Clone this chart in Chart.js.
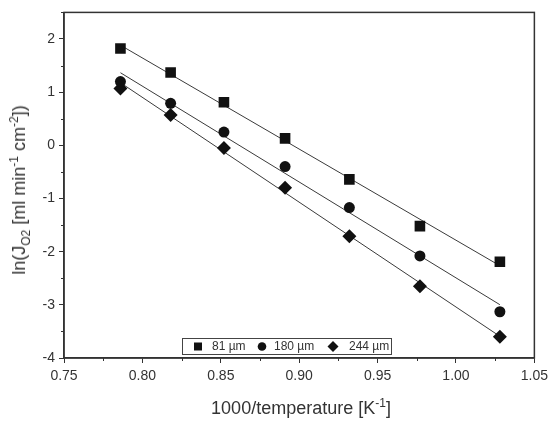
<!DOCTYPE html>
<html>
<head>
<meta charset="utf-8">
<script src="https://cdn.jsdelivr.net/npm/chart.js@4"></script>
<style>
  html,body{margin:0;padding:0;background:#fff;}
  #wrap{position:relative;width:553px;height:421px;font-family:"Liberation Sans",Arial,sans-serif;color:#333;}
  #c{position:absolute;left:0;top:0;}
  .t{position:absolute;white-space:nowrap;font-size:18px;line-height:1;}
  #xt{left:301px;top:399px;transform:translateX(-50%);}
  #yt{left:19px;top:190px;transform:translate(-50%,-50%) rotate(-90deg);}
  sub,sup{font-size:12px;line-height:0;}
</style>
</head>
<body>
<div id="wrap">
  <canvas id="c" width="553" height="421"></canvas>
  <div class="t" id="yt">ln(J<sub>O2</sub> [ml min<sup>-1</sup> cm<sup>-2</sup>])</div>
  <div class="t" id="xt">1000/temperature [K<sup>-1</sup>]</div>
</div>
<script>
// ---- data ----
const invTemp = [0.786, 0.818, 0.852, 0.891, 0.932, 0.977, 1.028];
const series81 = [1.82, 1.37, 0.81, 0.13, -0.64, -1.52, -2.19];
const series180 = [1.20, 0.79, 0.25, -0.40, -1.17, -2.08, -3.13];
const series244 = [1.07, 0.57, -0.05, -0.80, -1.71, -2.65, -3.60];
const seriesLabels = ['81 µm', '180 µm', '244 µm'];
const seriesStyles = ['rect', 'circle', 'rectRot'];
const xTickLabels = ['0.75','0.80','0.85','0.90','0.95','1.00','1.05'];
const yTickLabels = ['-4','-3','-2','-1','0','1','2'];

function pts(ys){ return invTemp.map((x,i)=>({x:x,y:ys[i]})); }
function fit(ys){
  const n = invTemp.length;
  const mx = invTemp.reduce((a,b)=>a+b,0)/n, my = ys.reduce((a,b)=>a+b,0)/n;
  let sxy=0,sxx=0;
  for(let i=0;i<n;i++){ sxy+=(invTemp[i]-mx)*(ys[i]-my); sxx+=(invTemp[i]-mx)**2; }
  const b = sxy/sxx, a = my-b*mx;
  const x0 = invTemp[0], x1 = invTemp[n-1];
  return [{x:x0,y:a+b*x0},{x:x1,y:a+b*x1}];
}
const allSeries = [series81, series180, series244];
const ink = '#111';
const radii = {rect:7.5, circle:5.5, rectRot:7};
const datasets = [];
allSeries.forEach((s)=>{
  datasets.push({type:'line', data:fit(s), borderColor:'#3a3a3a', borderWidth:1, pointRadius:0, fill:false, showLine:true, order:2});
});
allSeries.forEach((s,i)=>{
  datasets.push({type:'scatter', label:seriesLabels[i], data:pts(s), pointStyle:seriesStyles[i],
    pointRadius: radii[seriesStyles[i]],
    backgroundColor:ink, borderColor:ink, borderWidth:0, order:1});
});

const deco = {
  id:'deco',
  afterDraw(chart){
    const ctx = chart.ctx, a = chart.chartArea, xs = chart.scales.x, ys = chart.scales.y;
    ctx.save();
    ctx.strokeStyle = '#333';
    ctx.lineWidth = 1.5;
    ctx.strokeRect(a.left, a.top, a.right-a.left, a.bottom-a.top);
    // minor ticks
    ctx.lineWidth = 1;
    for(let i=0;i<xTickLabels.length-1;i++){
      const v = (parseFloat(xTickLabels[i])+parseFloat(xTickLabels[i+1]))/2;
      const px = Math.round(xs.getPixelForValue(v))+0.5;
      ctx.beginPath(); ctx.moveTo(px,a.bottom); ctx.lineTo(px,a.bottom+3); ctx.stroke();
    }
    for(let i=0;i<yTickLabels.length;i++){
      const v = parseFloat(yTickLabels[i])+0.5;
      if (v>2.5) continue;
      const py = Math.round(ys.getPixelForValue(v))+0.5;
      ctx.beginPath(); ctx.moveTo(a.left,py); ctx.lineTo(a.left-3,py); ctx.stroke();
    }
    // legend box
    const L = 182, T = 338, W = 209, H = 16;
    ctx.fillStyle = '#fff';
    ctx.fillRect(L,T,W,H);
    ctx.strokeStyle = '#444'; ctx.lineWidth = 1;
    ctx.strokeRect(L+0.5,T+0.5,W,H);
    const cy = T+H/2+0.5;
    const items = [[198,212],[262,274],[333,349]];
    ctx.font = '12px "Liberation Sans", Arial, sans-serif';
    ctx.textBaseline = 'middle';
    items.forEach((it,i)=>{
      ctx.fillStyle = ink;
      const st = seriesStyles[i];
      ctx.beginPath();
      if(st==='rect'){ ctx.rect(it[0]-4,cy-4,8,8); }
      else if(st==='circle'){ ctx.arc(it[0],cy,4.3,0,Math.PI*2); }
      else { ctx.moveTo(it[0],cy-5.5); ctx.lineTo(it[0]+5.5,cy); ctx.lineTo(it[0],cy+5.5); ctx.lineTo(it[0]-5.5,cy); ctx.closePath(); }
      ctx.fill();
      ctx.fillStyle = '#333';
      ctx.fillText(seriesLabels[i], it[1], cy);
    });
    ctx.restore();
  }
};

new Chart(document.getElementById('c'), {
  type:'scatter',
  data:{datasets:datasets},
  options:{
    responsive:false, animation:false, devicePixelRatio:1,
    layout:{padding:{top:12,right:16,left:0,bottom:0}},
    plugins:{legend:{display:false}, tooltip:{enabled:false}},
    scales:{
      x:{type:'linear', min:0.75, max:1.05,
        ticks:{stepSize:0.05, color:'#333', padding:5, font:{family:'"Liberation Sans", Arial, sans-serif', size:14},
          callback:(v)=>{ const s=v.toFixed(2); return xTickLabels.includes(s)?s:''; }},
        grid:{drawOnChartArea:false, tickLength:5, color:'#333', lineWidth:1},
        border:{color:'#333', width:1.5},
        afterFit:(s)=>{ s.height = 63; }
      },
      y:{type:'linear', min:-4, max:2.5,
        afterBuildTicks:(s)=>{ s.ticks = s.ticks.filter(t=>yTickLabels.includes(String(Math.round(t.value))) && Math.abs(t.value-Math.round(t.value))<1e-9); },
        ticks:{stepSize:1, color:'#333', padding:4, font:{family:'"Liberation Sans", Arial, sans-serif', size:14},
          callback:(v)=>String(v)},
        grid:{drawOnChartArea:false, tickLength:5, color:'#333', lineWidth:1},
        border:{color:'#333', width:1.5},
        afterFit:(s)=>{ s.width = 64; }
      }
    }
  },
  plugins:[deco]
});
</script>
</body>
</html>
